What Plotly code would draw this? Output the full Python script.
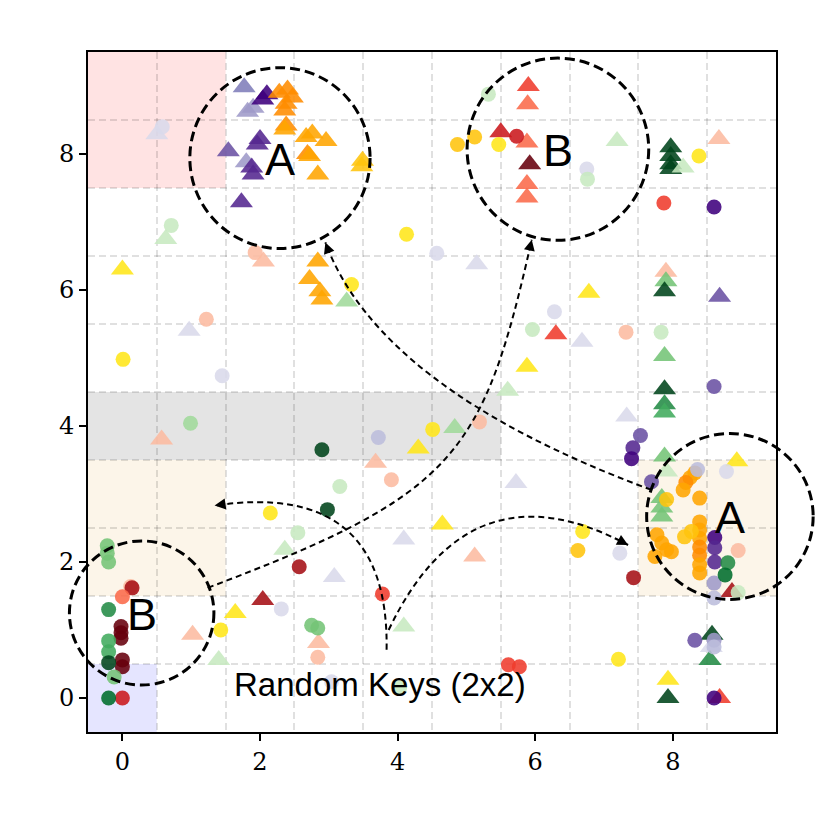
import plotly.graph_objects as go
import math

# ---------------- palettes (category level -> colour) ----------------
PURPLES = ["#dadaeb", "#bcbddc", "#9e9ac8", "#807dba", "#6a51a3", "#54278f", "#3f007d"]
REDS = ["#fcbba1", "#fc9272", "#fb6a4a", "#ef3b2c", "#cb181d", "#a50f15", "#67000d"]
GREENS = ["#c7e9c0", "#a1d99b", "#74c476", "#41ab5d", "#238b45", "#006d2c", "#00441b"]
ORANGES = ["#ffe619", "#ffc40c", "#ffb300", "#ffa500", "#ff8c00"]

# ---------------- data ----------------
purple_circle_x = [0.58, 1.45, 3.72, 6.28, 4.57, 6.75, 8.60, 8.60, 7.53, 7.42, 7.40, 8.36, 8.78, 7.69,
                   8.61, 8.61, 8.61, 8.60, 8.60, 7.23, 8.32, 8.60, 8.60, 8.60, 2.31, 3.04]
purple_circle_y = [8.40, 4.74, 3.83, 5.68, 6.54, 7.78, 7.22, 4.58, 3.86, 3.68, 3.52, 3.36, 3.33, 3.18,
                   2.36, 2.21, 2.00, 1.69, 1.47, 2.13, 0.85, 0.85, 0.75, 0.00, 1.31, 0.24]
purple_circle_level = [0, 0, 1, 0, 0, 0, 6, 4, 4, 5, 6, 1, 0, 4,
                       6, 5, 5, 2, 1, 0, 4, 2, 1, 6, 0, 0]

purple_tri_x = [1.77, 1.82, 1.90, 2.10, 2.04, 2.00, 1.96, 1.54, 1.80, 1.88, 1.90, 1.73, 0.50, 0.97,
                5.15, 6.68, 7.33, 5.72, 8.68, 4.09, 3.08, 8.56]
purple_tri_y = [8.98, 8.62, 8.68, 8.88, 8.80, 8.22, 8.14, 8.04, 7.88, 7.80, 7.70, 7.29, 8.29, 5.40,
                6.38, 5.24, 4.14, 3.16, 5.90, 2.33, 1.78, 0.75]
purple_tri_level = [3, 2, 2, 6, 6, 5, 5, 4, 2, 5, 5, 5, 0, 0,
                    0, 0, 0, 0, 4, 0, 0, 0]

orange_circle_x = [0.01, 3.33, 4.13, 4.51, 4.87, 5.12, 5.47, 8.38, 6.69, 6.62, 7.21, 2.15, 1.43,
                   8.32, 8.25, 8.19, 8.15, 8.39, 7.91, 8.39, 8.39, 8.39, 8.39, 8.39, 8.39, 8.39,
                   8.17, 8.27, 7.77, 7.84, 7.91, 7.98, 7.74]
orange_circle_y = [4.98, 6.08, 6.82, 3.95, 8.14, 8.25, 8.14, 7.97, 2.45, 2.17, 0.57, 2.72, 1.00,
                   3.31, 3.24, 3.17, 3.06, 2.94, 2.92, 2.59, 2.47, 2.35, 2.22, 2.10, 1.96, 1.84,
                   2.37, 2.45, 2.40, 2.28, 2.18, 2.15, 2.08]
orange_circle_level = [0, 0, 0, 0, 1, 1, 0, 0, 0, 1, 0, 0, 0,
                       3, 3, 4, 3, 3, 1, 3, 3, 3, 4, 4, 3, 3,
                       1, 1, 3, 3, 3, 3, 3]

orange_tri_x = [0.00, 2.28, 2.40, 2.47, 2.38, 2.36, 2.38, 2.36, 2.67, 2.76, 2.96, 2.69, 2.72, 2.84,
                3.49, 3.48, 2.84, 2.72, 2.87, 2.90, 4.30, 5.88, 6.78, 4.65, 8.93, 7.93, 1.64]
orange_tri_y = [6.30, 8.90, 8.95, 8.83, 8.74, 8.64, 8.42, 8.36, 8.25, 8.30, 8.19, 8.00, 7.97, 7.70,
                7.90, 7.82, 6.42, 6.16, 5.98, 5.86, 3.67, 4.87, 5.96, 2.55, 3.48, 0.27, 1.25]
orange_tri_level = [0, 4, 4, 4, 4, 4, 4, 3, 3, 3, 3, 4, 3, 3,
                    1, 1, 3, 3, 3, 3, 0, 0, 0, 0, 0, 0, 0]

red_circle_x = [1.93, 1.22, 3.91, 5.19, 7.32, 7.87, 5.73, 8.95, 7.43, 5.61, 5.77, 2.57, 3.78, 2.84,
                0.12, 0.14, 0.00, -0.02, -0.02, -0.02, 0.00, 0.00, 0.00]
red_circle_y = [6.55, 5.57, 3.21, 4.06, 5.38, 7.28, 8.26, 2.17, 1.77, 0.49, 0.46, 1.93, 1.53, 0.60,
                1.64, 1.62, 1.49, 1.05, 0.96, 0.88, 0.56, 0.46, 0.00]
red_circle_level = [0, 0, 0, 0, 0, 3, 4, 0, 5, 3, 3, 5, 3, 0,
                    0, 5, 2, 6, 6, 6, 6, 6, 4]

red_tri_x = [2.05, 0.57, 3.68, 6.30, 8.67, 7.90, 5.90, 5.89, 5.50, 5.88, 5.92, 5.88, 5.88, 8.86,
             8.68, 5.12, 2.04, 1.02, 2.85]
red_tri_y = [6.42, 3.80, 3.46, 5.35, 8.22, 6.27, 9.00, 8.73, 8.32, 8.17, 7.85, 7.56, 7.36, 1.56,
             0.00, 2.08, 1.44, 0.93, 0.81]
red_tri_level = [0, 0, 0, 3, 0, 0, 3, 2, 4, 2, 6, 2, 2, 5,
                 3, 0, 5, 0, 0]

green_circle_x = [0.71, 0.99, 2.90, 3.16, 5.96, 7.83, 5.32, 6.76, 8.80, 8.76, 8.95, 2.98, 2.55,
                  2.75, 2.84, 4.03, -0.22, -0.22, -0.20, -0.20, -0.20, -0.20, -0.20, -0.12, -0.20]
green_circle_y = [6.95, 4.04, 3.65, 3.11, 5.42, 5.38, 8.88, 7.63, 1.99, 1.81, 1.55, 2.77, 2.43,
                  1.07, 1.03, 0.15, 2.24, 2.13, 2.00, 1.30, 0.84, 0.68, 0.52, 0.31, 0.00]
green_circle_level = [0, 1, 6, 0, 0, 0, 0, 0, 4, 5, 0, 6, 0,
                      2, 2, 0, 2, 2, 2, 4, 3, 3, 6, 2, 5]

green_tri_x = [0.63, 3.26, 4.83, 5.60, 7.19, 7.97, 7.97, 7.97, 7.97, 8.15, 7.90, 7.88, 7.88, 7.88,
               7.88, 7.88, 7.88, 7.91, 7.84, 7.84, 7.84, 8.57, 8.54, 7.93, 2.36, 1.40, 4.09]
green_tri_y = [6.75, 5.83, 3.97, 4.52, 8.19, 8.10, 7.97, 7.85, 7.78, 7.80, 6.13, 5.98, 5.03, 4.54,
               4.32, 4.20, 3.55, 3.33, 2.94, 2.80, 2.67, 0.93, 0.56, 0.00, 2.18, 0.56, 1.05]
green_tri_level = [0, 1, 1, 0, 0, 6, 6, 6, 6, 0, 2, 6, 2, 6,
                   4, 3, 2, 0, 2, 2, 2, 6, 4, 6, 0, 0, 0]

x_ticks = [0, 2, 4, 6, 8]
y_ticks = [0, 2, 4, 6, 8]
XR = [-0.5, 9.5]
YR = [-0.5, 9.5]

# ---------------- figure ----------------
fig = go.Figure()

def add_markers(xs, ys, levels, pal, symbol, size):
    fig.add_trace(go.Scatter(
        x=xs, y=ys, mode="markers", showlegend=False, hoverinfo="skip",
        marker=dict(symbol=symbol, size=size, color=[pal[l] for l in levels],
                    opacity=0.88, line=dict(width=0)),
    ))

TRI = 20
CIR = 15
add_markers(red_tri_x, red_tri_y, red_tri_level, REDS, "triangle-up", TRI)
add_markers(purple_tri_x, purple_tri_y, purple_tri_level, PURPLES, "triangle-up", TRI)
add_markers(orange_tri_x, orange_tri_y, orange_tri_level, ORANGES, "triangle-up", TRI)
add_markers(green_tri_x, green_tri_y, green_tri_level, GREENS, "triangle-up", TRI)
add_markers(red_circle_x, red_circle_y, red_circle_level, REDS, "circle", CIR)
add_markers(orange_circle_x, orange_circle_y, orange_circle_level, ORANGES, "circle", CIR)
add_markers(purple_circle_x, purple_circle_y, purple_circle_level, PURPLES, "circle", CIR)
add_markers(green_circle_x, green_circle_y, green_circle_level, GREENS, "circle", CIR)

shapes = []
# shaded key regions
regions = [
    (-0.5, 1.5, 7.5, 9.5, "rgba(255,0,0,0.11)"),
    (-0.5, 5.5, 3.5, 4.5, "rgba(0,0,0,0.105)"),
    (-0.5, 1.5, 1.5, 3.5, "rgba(230,160,40,0.10)"),
    (7.5, 9.5, 1.5, 3.5, "rgba(230,160,40,0.10)"),
    (-0.5, 0.5, -0.5, 0.5, "rgba(0,0,255,0.10)"),
]
for x0, x1, y0, y1, c in regions:
    shapes.append(dict(type="rect", xref="x", yref="y", x0=x0, x1=x1, y0=y0, y1=y1,
                       fillcolor=c, line=dict(width=0), layer="below"))

def pxp(x):
    return (x - XR[0]) / (XR[1] - XR[0])

def pyp(y):
    return (y - YR[0]) / (YR[1] - YR[0])

# dashed circles (paper coords so they can spill over the frame)
circles = [
    (2.29, 7.94, 1.31, 1.33, "A"),
    (6.33, 8.07, 1.32, 1.34, "B"),
    (8.83, 2.67, 1.21, 1.22, "A"),
    (0.28, 1.25, 1.05, 1.06, "B"),
]
annotations = []
for cx, cy, rx, ry, lab in circles:
    shapes.append(dict(type="circle", xref="paper", yref="paper",
                       x0=pxp(cx - rx), x1=pxp(cx + rx), y0=pyp(cy - ry), y1=pyp(cy + ry),
                       line=dict(color="black", width=3, dash="10px,5px"), layer="above"))
    annotations.append(dict(x=cx, y=cy - 0.02, xref="x", yref="y", text=lab, showarrow=False,
                            font=dict(family="Liberation Sans", size=45, color="black"),
                            xanchor="center", yanchor="middle"))

# curved dashed arrows: (start, ctrl1, ctrl2 or None, tip)
arrows = [
    ((7.69, 3.06), (3.74, 4.54), None, (2.95, 6.70)),
    ((1.24, 1.62), (4.85, 3.00), (5.24, 3.56), (5.95, 6.74)),
    ((3.84, 0.71), (3.88, 3.21), None, (1.34, 2.83)),
    ((3.87, 1.00), (5.05, 3.50), None, (7.35, 2.25)),
]
for p0, c1, c2, p2 in arrows:
    if c2 is None:
        path = f"M {p0[0]},{p0[1]} Q {c1[0]},{c1[1]} {p2[0]},{p2[1]}"
        last = c1
    else:
        path = f"M {p0[0]},{p0[1]} C {c1[0]},{c1[1]} {c2[0]},{c2[1]} {p2[0]},{p2[1]}"
        last = c2
    shapes.append(dict(type="path", xref="x", yref="y", path=path,
                       line=dict(color="black", width=2, dash="6px,4px"), layer="above"))
    dx, dy = p2[0] - last[0], p2[1] - last[1]
    n = math.hypot(dx, dy)
    annotations.append(dict(x=p2[0], y=p2[1], ax=p2[0] - 0.14 * dx / n, ay=p2[1] - 0.14 * dy / n,
                            xref="x", yref="y", axref="x", ayref="y", text="", showarrow=True,
                            arrowhead=2, arrowsize=1.1, arrowwidth=2, arrowcolor="black", standoff=0))

annotations.append(dict(x=3.74, y=0.2, xref="x", yref="y", text="Random Keys (2x2)", showarrow=False,
                        font=dict(family="Liberation Sans", size=33, color="black"),
                        xanchor="center", yanchor="middle"))

axis_common = dict(
    showline=True, linecolor="black", linewidth=1.6, mirror=True,
    ticks="outside", ticklen=7, tickwidth=1.5, tickcolor="black",
    showgrid=False, zeroline=False,
    tickfont=dict(family="DejaVu Serif", size=24, color="black"),
    minor=dict(tick0=0.5, dtick=1, showgrid=True, gridcolor="rgba(0,0,0,0.12)",
               gridwidth=1.5, griddash="7px,4px", ticks=""),
)

fig.update_layout(
    width=830, height=828,
    margin=dict(l=80, r=62, t=44, b=104),
    paper_bgcolor="white", plot_bgcolor="white",
    shapes=shapes, annotations=annotations,
    xaxis=dict(range=XR, tickmode="array", tickvals=x_ticks, ticktext=[str(v) for v in x_ticks], **axis_common),
    yaxis=dict(range=YR, tickmode="array", tickvals=y_ticks, ticktext=[str(v) for v in y_ticks], **axis_common),
)

fig.write_html("out.html")
